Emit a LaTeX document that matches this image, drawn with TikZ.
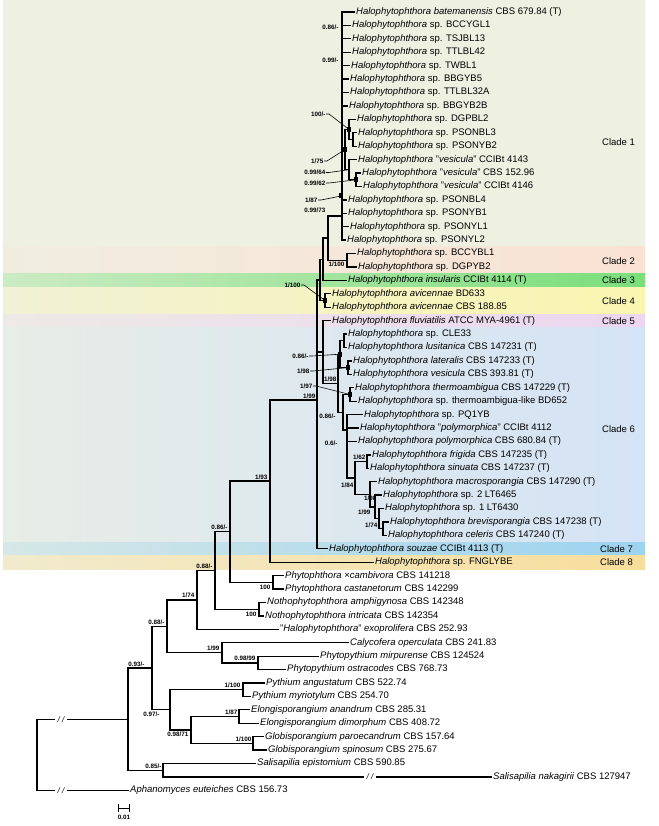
\documentclass[tikz,border=0pt]{standalone}
\usepackage{fontspec}
\setmainfont{Liberation Sans}
\definecolor{base}{RGB}{238,240,226}
\definecolor{cB}{RGB}{249,226,212}
\definecolor{cC}{RGB}{122,222,122}
\definecolor{cD}{RGB}{250,245,176}
\definecolor{cE}{RGB}{236,214,240}
\definecolor{cF}{RGB}{212,227,245}
\definecolor{cG}{RGB}{156,211,240}
\definecolor{cH}{RGB}{248,222,156}
\newcommand{\Halo}{\textit{Halophytophthora}}
\begin{document}
\begin{tikzpicture}[x=1pt,y=-1pt,
  br/.style={line width=1.3pt},
  tax/.style={anchor=west,inner xsep=1pt,inner ysep=0pt,text height=6.6pt,text depth=1.8pt,font=\fontsize{9.5}{10}\selectfont},
  supp/.style={inner sep=0.4pt,font=\fontsize{6.3}{7}\selectfont\bfseries},
  lead/.style={line width=0.6pt},
  cl/.style={anchor=west,inner sep=0pt,font=\fontsize{9.5}{10}\selectfont},
  blob/.style={fill=black},
  brk/.style={inner xsep=2pt,inner ysep=0pt,font=\fontsize{8}{9}\selectfont\itshape}]
\useasboundingbox (0,0) rectangle (658,826);
\fill[white] (0,0) rectangle (658,826);
% clade bands
\fill[base] (3,0) rectangle (645,246.8);
\shade[left color=cB!20!base, right color=cB] (3,246.8) rectangle (645,273.7);
\shade[left color=cC!30!base, right color=cC] (3,273.7) rectangle (645,287.1);
\shade[left color=cD!25!base, right color=cD] (3,287.1) rectangle (645,314.0);
\shade[left color=cE!25!base, right color=cE] (3,314.0) rectangle (645,327.4);
\shade[left color=cF!25!base, right color=cF] (3,327.4) rectangle (645,542.1);
\shade[left color=cG!30!base, right color=cG] (3,542.1) rectangle (645,555.5);
\shade[left color=cH!30!base, right color=cH] (3,555.5) rectangle (645,569.0);
% clade labels
\node[cl] (k1) at (602,142) {Clade 1};
\node[cl] (k2) at (602,261) {Clade 2};
\node[cl] (k3) at (602,280.4) {Clade 3};
\node[cl] (k4) at (602,301) {Clade 4};
\node[cl] (k5) at (602,320.7) {Clade 5};
\node[cl] (k6) at (602,429) {Clade 6};
\node[cl] (k7) at (600,548.8) {Clade 7};
\node[cl] (k8) at (600,562.2) {Clade 8};
% taxa
\node[tax] (t1) at (355,12.00) {\textit{Halophytophthora batemanensis} CBS 679.84 (T)};
\node[tax] (t2) at (351,25.42) {\Halo{} sp. BCCYGL1};
\node[tax] (t3) at (351,38.84) {\Halo{} sp. TSJBL13};
\node[tax] (t4) at (351,52.26) {\Halo{} sp. TTLBL42};
\node[tax] (t5) at (350,65.68) {\Halo{} sp. TWBL1};
\node[tax] (t6) at (349,79.10) {\Halo{} sp. BBGYB5};
\node[tax] (t7) at (349,92.52) {\Halo{} sp. TTLBL32A};
\node[tax] (t8) at (348,105.94) {\Halo{} sp. BBGYB2B};
\node[tax] (t9) at (356,119.36) {\Halo{} sp. DGPBL2};
\node[tax] (t10) at (357,132.78) {\Halo{} sp. PSONBL3};
\node[tax] (t11) at (357,146.20) {\Halo{} sp. PSONYB2};
\node[tax] (t12) at (357,159.62) {\Halo{} "\textit{vesicula}" CCIBt 4143};
\node[tax] (t13) at (361,173.04) {\Halo{} "\textit{vesicula}" CBS 152.96};
\node[tax] (t14) at (362,186.46) {\Halo{} "\textit{vesicula}" CCIBt 4146};
\node[tax] (t15) at (347,199.88) {\Halo{} sp. PSONBL4};
\node[tax] (t16) at (347,213.30) {\Halo{} sp. PSONYB1};
\node[tax] (t17) at (349,226.72) {\Halo{} sp. PSONYL1};
\node[tax] (t18) at (346,240.14) {\Halo{} sp. PSONYL2};
\node[tax] (t19) at (356,253.56) {\Halo{} sp. BCCYBL1};
\node[tax] (t20) at (357,266.98) {\Halo{} sp. DGPYB2};
\node[tax] (t21) at (347,280.40) {\textit{Halophytophthora insularis} CCIBt 4114 (T)};
\node[tax] (t22) at (331,293.82) {\textit{Halophytophthora avicennae} BD633};
\node[tax] (t23) at (331,307.24) {\textit{Halophytophthora avicennae} CBS 188.85};
\node[tax] (t24) at (331,320.66) {\textit{Halophytophthora fluviatilis} ATCC MYA-4961 (T)};
\node[tax] (t25) at (347,334.08) {\Halo{} sp. CLE33};
\node[tax] (t26) at (347,347.50) {\textit{Halophytophthora lusitanica} CBS 147231 (T)};
\node[tax] (t27) at (352,360.92) {\textit{Halophytophthora lateralis} CBS 147233 (T)};
\node[tax] (t28) at (352,374.34) {\textit{Halophytophthora vesicula} CBS 393.81 (T)};
\node[tax] (t29) at (354,387.76) {\textit{Halophytophthora thermoambigua} CBS 147229 (T)};
\node[tax] (t30) at (357,401.18) {\Halo{} sp. thermoambigua-like BD652};
\node[tax] (t31) at (363,414.60) {\Halo{} sp. PQ1YB};
\node[tax] (t32) at (359,428.02) {\Halo{} "\textit{polymorphica}" CCIBt 4112};
\node[tax] (t33) at (357,441.44) {\textit{Halophytophthora polymorphica} CBS 680.84 (T)};
\node[tax] (t34) at (371,454.86) {\textit{Halophytophthora frigida} CBS 147235 (T)};
\node[tax] (t35) at (369,468.28) {\textit{Halophytophthora sinuata} CBS 147237 (T)};
\node[tax] (t36) at (377,481.70) {\textit{Halophytophthora macrosporangia} CBS 147290 (T)};
\node[tax] (t37) at (382,495.12) {\Halo{} sp. 2 LT6465};
\node[tax] (t38) at (384,508.54) {\Halo{} sp. 1 LT6430};
\node[tax] (t39) at (389,521.96) {\textit{Halophytophthora brevisporangia} CBS 147238 (T)};
\node[tax] (t40) at (387,535.38) {\textit{Halophytophthora celeris} CBS 147240 (T)};
\node[tax] (t41) at (328,548.80) {\textit{Halophytophthora souzae} CCIBt 4113 (T)};
\node[tax] (t42) at (374,562.22) {\Halo{} sp. FNGLYBE};
\node[tax] (t43) at (284,575.64) {\textit{Phytophthora} ×\textit{cambivora} CBS 141218};
\node[tax] (t44) at (284,589.06) {\textit{Phytophthora castanetorum} CBS 142299};
\node[tax] (t45) at (266,602.48) {\textit{Nothophytophthora amphigynosa} CBS 142348};
\node[tax] (t46) at (264,615.90) {\textit{Nothophytophthora intricata} CBS 142354};
\node[tax] (t47) at (279,629.32) {"\Halo" \textit{exoprolifera} CBS 252.93};
\node[tax] (t48) at (349,642.74) {\textit{Calycofera operculata} CBS 241.83};
\node[tax] (t49) at (319,656.16) {\textit{Phytopythium mirpurense} CBS 124524};
\node[tax] (t50) at (286,669.58) {\textit{Phytopythium ostracodes} CBS 768.73};
\node[tax] (t51) at (265,683.00) {\textit{Pythium angustatum} CBS 522.74};
\node[tax] (t52) at (251,696.42) {\textit{Pythium myriotylum} CBS 254.70};
\node[tax] (t53) at (250,709.84) {\textit{Elongisporangium anandrum} CBS 285.31};
\node[tax] (t54) at (259,723.26) {\textit{Elongisporangium dimorphum} CBS 408.72};
\node[tax] (t55) at (264,736.68) {\textit{Globisporangium paroecandrum} CBS 157.64};
\node[tax] (t56) at (267,750.10) {\textit{Globisporangium spinosum} CBS 275.67};
\node[tax] (t57) at (256,763.52) {\textit{Salisapilia epistomium} CBS 590.85};
\node[tax] (t58) at (492,776.94) {\textit{Salisapilia nakagirii} CBS 127947};
\node[tax] (t59) at (129,790.36) {\textit{Aphanomyces euteiches} CBS 156.73};
% internal nodes
\coordinate (C1) at (342,216);
\coordinate (C1a) at (342,29);
\coordinate (C1b) at (342,231);
\coordinate (C1c) at (341,196);
\coordinate (NDV) at (345,149.5);
\coordinate (ND) at (349,129.4);
\coordinate (NPS) at (353,139.5);
\coordinate (NV) at (349,169.7);
\coordinate (NV2) at (356,179.8);
\coordinate (N12) at (328,238);
\coordinate (C2) at (347,260.3);
\coordinate (N123) at (323,259.2);
\coordinate (C4) at (325,300.5);
\coordinate (N1234) at (320,279.9);
\coordinate (NA) at (317,400);
\coordinate (N56) at (323,351.9);
\coordinate (N6) at (338,383.2);
\coordinate (N4) at (340,354.2);
\coordinate (NCL) at (344,340.8);
\coordinate (NLV) at (348,367.6);
\coordinate (Nrest) at (343,412.25);
\coordinate (NTH) at (350,394.5);
\coordinate (Npoly) at (347,430);
\coordinate (Nlow) at (355,478.0);
\coordinate (NFS) at (367,461.6);
\coordinate (Nmac) at (370,494.3);
\coordinate (NLT) at (375,506.9);
\coordinate (NLT2) at (379,518.6);
\coordinate (NBC) at (383,528.7);
\coordinate (N270) at (270,481.1);
\coordinate (N230) at (230,531.7);
\coordinate (NP) at (273,582.4);
\coordinate (N215) at (215,570.5);
\coordinate (NN) at (259,609.2);
\coordinate (N197) at (197,599.9);
\coordinate (N222) at (222,652.8);
\coordinate (NPp) at (258,662.9);
\coordinate (N167) at (167,626.4);
\coordinate (NPy) at (243,689.7);
\coordinate (NEl) at (239,716.5);
\coordinate (NGl) at (253,743.4);
\coordinate (N191) at (191,730.0);
\coordinate (N170) at (170,709.8);
\coordinate (N152) at (152,668.1);
\coordinate (NSa) at (163,770.2);
\coordinate (N128) at (128,719.2);
\coordinate (root) at (37,754.8);
\node[brk] (bk1) at (61,719.2) {/ /};
\node[brk] (bk2) at (61,790.36) {/ /};
\node[brk] (bk3) at (370,776.94) {/ /};
% branches
\foreach \k in {1,...,8,15,16,17,18} \draw[br] (C1) |- (t\k.west);
\draw[line width=2.8pt] (C1a) -- (C1b);
\draw[br] (C1) |- (NDV); \draw[br] (NDV) |- (ND); \draw[br] (NDV) |- (NV);
\draw[br] (ND) |- (t9.west); \draw[br] (ND) |- (NPS);
\draw[br] (NPS) |- (t10.west); \draw[br] (NPS) |- (t11.west);
\draw[br] (NV) |- (t12.west); \draw[br] (NV) |- (NV2);
\draw[br] (NV2) |- (t13.west); \draw[br] (NV2) |- (t14.west);
\draw[br] (N12) |- (C1); \draw[br] (N12) |- (C2);
\draw[br] (C2) |- (t19.west); \draw[br] (C2) |- (t20.west);
\draw[br] (N123) |- (N12); \draw[br] (N123) |- (t21.west);
\draw[br] (N1234) |- (N123); \draw[br] (N1234) |- (C4);
\draw[br] (C4) |- (t22.west); \draw[br] (C4) |- (t23.west);
\draw[br] (NA) |- (N1234); \draw[br] (NA) |- (N56); \draw[br] (NA) |- (t41.west);
\draw[br] (N56) |- (t24.west); \draw[br] (N56) |- (N6);
\draw[br] (N6) |- (N4); \draw[br] (N6) |- (Nrest);
\draw[br] (N4) |- (NCL); \draw[br] (N4) |- (NLV);
\draw[br] (NCL) |- (t25.west); \draw[br] (NCL) |- (t26.west);
\draw[br] (NLV) |- (t27.west); \draw[br] (NLV) |- (t28.west);
\draw[br] (Nrest) |- (NTH); \draw[br] (Nrest) |- (Npoly);
\draw[br] (NTH) |- (t29.west); \draw[br] (NTH) |- (t30.west);
\draw[br] (Npoly) |- (t31.west); \draw[br] (Npoly) |- (t32.west);
\draw[br] (Npoly) |- (t33.west); \draw[br] (Npoly) |- (Nlow);
\draw[br] (Nlow) |- (NFS); \draw[br] (Nlow) |- (Nmac);
\draw[br] (NFS) |- (t34.west); \draw[br] (NFS) |- (t35.west);
\draw[br] (Nmac) |- (t36.west); \draw[br] (Nmac) |- (NLT);
\draw[br] (NLT) |- (t37.west); \draw[br] (NLT) |- (NLT2);
\draw[br] (NLT2) |- (t38.west); \draw[br] (NLT2) |- (NBC);
\draw[br] (NBC) |- (t39.west); \draw[br] (NBC) |- (t40.west);
\draw[br] (N270) |- (NA); \draw[br] (N270) |- (t42.west);
\draw[br] (N230) |- (N270); \draw[br] (N230) |- (NP);
\draw[br] (NP) |- (t43.west); \draw[br] (NP) |- (t44.west);
\draw[br] (N215) |- (N230); \draw[br] (N215) |- (NN);
\draw[br] (NN) |- (t45.west); \draw[br] (NN) |- (t46.west);
\draw[br] (N197) |- (N215); \draw[br] (N197) |- (t47.west);
\draw[br] (N167) |- (N197); \draw[br] (N167) |- (N222);
\draw[br] (N222) |- (t48.west); \draw[br] (N222) |- (NPp);
\draw[br] (NPp) |- (t49.west); \draw[br] (NPp) |- (t50.west);
\draw[br] (N152) |- (N167); \draw[br] (N152) |- (N170);
\draw[br] (N170) |- (NPy); \draw[br] (N170) |- (N191);
\draw[br] (NPy) |- (t51.west); \draw[br] (NPy) |- (t52.west);
\draw[br] (N191) |- (NEl); \draw[br] (N191) |- (NGl);
\draw[br] (NEl) |- (t53.west); \draw[br] (NEl) |- (t54.west);
\draw[br] (NGl) |- (t55.west); \draw[br] (NGl) |- (t56.west);
\draw[br] (N128) |- (N152); \draw[br] (N128) |- (NSa);
\draw[br] (NSa) |- (t57.west); \draw[br] (NSa) |- (bk3.west); \draw[br] (bk3.east) -- (t58.west);
\draw[br] (root) |- (bk1.west); \draw[br] (bk1.east) -- (N128);
\draw[br] (root) |- (bk2.west); \draw[br] (bk2.east) -- (t59.west);
% small node blobs
\foreach \c in {ND,NDV,NV2,C4,N4,NLV,NTH,C1c} \fill[blob] (\c) ++(-2.5,-2.5) rectangle ++(4,5);
% support values
\node[supp,anchor=east] (s1) at (339,27) {0.86/-};
\node[supp,anchor=east] (s2) at (339,60) {0.99/-};
\node[supp,anchor=east] (s3) at (326,114) {100/-};
\draw[lead] (s3.east) -- ++(3,0) -- (ND);
\node[supp,anchor=east] (s4) at (324,161) {1/75};
\draw[lead] (s4.east) -- ++(3,0) -- (NDV);
\node[supp,anchor=east] (s5) at (326,172.5) {0.99/64};
\draw[lead] (s5.east) -- ++(3,0) -- (NV);
\node[supp,anchor=east] (s6) at (326,183) {0.99/62};
\draw[lead] (s6.east) -- ++(3,0) -- (NV2);
\node[supp,anchor=east] (s7) at (318,200) {1/87};
\draw[lead] (s7.east) -- ++(3,0) -- (C1c);
\node[supp,anchor=east] (s8) at (326,210) {0.99/73};
\node[supp,anchor=north east] (s9) at (345,261.5) {1/100};
\node[supp,anchor=east] (s10) at (301,285) {1/100};
\draw[lead] (s10.east) -- ++(3,0) -- (C4);
\node[supp,anchor=east] (s11) at (309,356) {0.86/-};
\draw[lead] (s11.east) -- ++(3,0) -- (N4);
\node[supp,anchor=east] (s12) at (310,371) {1/98};
\draw[lead] (s12.east) -- ++(3,0) -- (NLV);
\node[supp,anchor=south east] (s13) at (337,382) {1/98};
\node[supp,anchor=east] (s14) at (313,386) {1/97};
\draw[lead] (s14.east) -- ++(3,0) -- (NTH);
\node[supp,anchor=south east] (s15) at (316,399) {1/99};
\node[supp,anchor=east] (s16) at (336,416) {0.86/-};
\node[supp,anchor=east] (s17) at (338,443) {0.6/-};
\node[supp,anchor=south east] (s18) at (366,460.5) {1/62};
\node[supp,anchor=east] (s19) at (354,485) {1/84};
\node[supp,anchor=east] (s20) at (377,498) {1/98};
\node[supp,anchor=east] (s21) at (371,512) {1/99};
\node[supp,anchor=east] (s22) at (378,525) {1/74};
\node[supp,anchor=south east] (s23) at (268,480) {1/93};
\node[supp,anchor=south east] (s24) at (228,530.5) {0.86/-};
\node[supp,anchor=south east] (s25) at (213,569.3) {0.88/-};
\node[supp,anchor=north east] (s26) at (271,584) {100};
\node[supp,anchor=north east] (s27) at (257,611) {100};
\node[supp,anchor=south east] (s28) at (195,598.7) {1/74};
\node[supp,anchor=south east] (s29) at (165,625.2) {0.88/-};
\node[supp,anchor=south east] (s30) at (220,651.6) {1/99};
\node[supp,anchor=south east] (s31) at (256,661.7) {0.98/99};
\node[supp,anchor=south east] (s32) at (145,666.9) {0.93/-};
\node[supp,anchor=south east] (s33) at (241,688.5) {1/100};
\node[supp,anchor=north east] (s34) at (160,711) {0.97/-};
\node[supp,anchor=north east] (s35) at (189,731.2) {0.98/71};
\node[supp,anchor=south east] (s36) at (238,715.3) {1/87};
\node[supp,anchor=south east] (s37) at (252,742.2) {1/100};
\node[supp,anchor=south east] (s38) at (162,769) {0.85/-};
% scale bar
\coordinate (sb1) at (118,808);
\coordinate (sb2) at (130,808);
\draw[line width=0.9pt,|-|] (sb1) -- (sb2);
\node[supp] (sbl) at (124,817) {0.01};
\end{tikzpicture}
\end{document}
